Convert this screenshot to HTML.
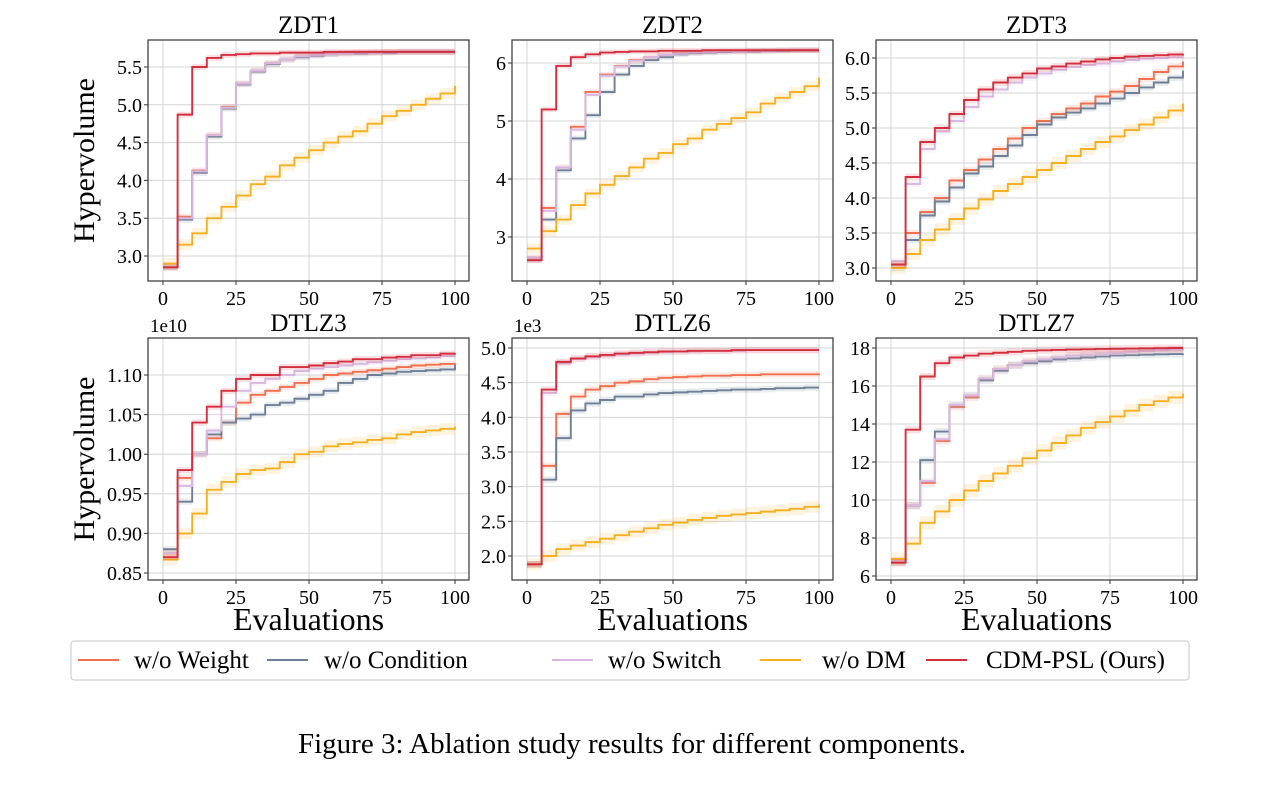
<!DOCTYPE html>
<html><head><meta charset="utf-8"><style>
body{margin:0;background:#fff;width:1274px;height:784px;overflow:hidden}
svg{font-family:"Liberation Serif",serif}
</style></head><body>
<svg id="fig" width="1274" height="784" viewBox="0 0 1274 784" xmlns="http://www.w3.org/2000/svg">
<g id="plots"></g>
<g>
<rect x="71" y="641" width="1118" height="39" rx="3" fill="#fff" stroke="#d0d0d0" stroke-width="1.2"/>
<g><line x1="78" y1="660" x2="119" y2="660" stroke="#f07050" stroke-width="2"/><text x="134" y="668" font-size="25">w/o Weight</text></g>
<g><line x1="267" y1="660" x2="308" y2="660" stroke="#6e7f96" stroke-width="2"/><text x="324" y="668" font-size="25">w/o Condition</text></g>
<g><line x1="552" y1="660" x2="593" y2="660" stroke="#d8b8e0" stroke-width="2"/><text x="608" y="668" font-size="25">w/o Switch</text></g>
<g><line x1="760" y1="660" x2="801" y2="660" stroke="#f5b021" stroke-width="2"/><text x="822" y="668" font-size="25">w/o DM</text></g>
<g><line x1="926" y1="660" x2="967" y2="660" stroke="#d42f3f" stroke-width="2"/><text x="986" y="668" font-size="25">CDM-PSL (Ours)</text></g>
</g>
<text x="632" y="753" font-size="29" text-anchor="middle">Figure 3: Ablation study results for different components.</text>
</svg>
<script>
const evals=[0,5,10,15,20,25,30,35,40,45,50,55,60,65,70,75,80,85,90,95,100];
const seriesNames=["weight","condition","switch","dm","cdm"];
const colors={weight:"#f07050",condition:"#6e7f96",switch:"#d8b8e0",dm:"#f5b021",cdm:"#d42f3f"};
const zdt1Weight=[2.85,3.52,4.13,4.6,4.97,5.28,5.45,5.55,5.6,5.64,5.66,5.67,5.68,5.69,5.69,5.7,5.7,5.7,5.7,5.7,5.7];
const zdt1Condition=[2.85,3.48,4.1,4.58,4.95,5.27,5.44,5.54,5.6,5.63,5.65,5.67,5.68,5.68,5.69,5.69,5.7,5.7,5.7,5.7,5.7];
const zdt1Switch=[2.85,3.5,4.12,4.6,4.96,5.28,5.45,5.55,5.6,5.64,5.66,5.67,5.68,5.69,5.69,5.7,5.7,5.7,5.7,5.7,5.7];
const zdt1Dm=[2.9,3.15,3.3,3.5,3.65,3.8,3.95,4.05,4.2,4.3,4.4,4.5,4.58,4.65,4.75,4.85,4.92,5.0,5.08,5.15,5.25];
const zdt1Cdm=[2.85,4.87,5.5,5.62,5.66,5.67,5.68,5.68,5.69,5.69,5.69,5.7,5.7,5.7,5.7,5.7,5.7,5.7,5.7,5.7,5.7];
const zdt2Weight=[2.65,3.5,4.2,4.9,5.5,5.8,5.95,6.05,6.1,6.14,6.17,6.18,6.19,6.2,6.2,6.21,6.21,6.22,6.22,6.22,6.22];
const zdt2Condition=[2.6,3.3,4.15,4.7,5.1,5.5,5.8,5.95,6.05,6.1,6.15,6.17,6.18,6.19,6.2,6.2,6.21,6.21,6.22,6.22,6.22];
const zdt2Switch=[2.65,3.45,4.2,4.85,5.45,5.78,5.94,6.04,6.1,6.14,6.16,6.18,6.19,6.2,6.2,6.21,6.21,6.22,6.22,6.22,6.22];
const zdt2Dm=[2.8,3.1,3.3,3.55,3.75,3.9,4.05,4.2,4.35,4.45,4.6,4.7,4.85,4.95,5.05,5.15,5.3,5.4,5.5,5.6,5.75];
const zdt2Cdm=[2.6,5.2,5.95,6.1,6.15,6.18,6.19,6.2,6.2,6.21,6.21,6.21,6.22,6.22,6.22,6.22,6.22,6.22,6.22,6.22,6.22];
const zdt3Weight=[3.05,3.5,3.8,4.0,4.25,4.4,4.55,4.7,4.85,5.0,5.1,5.2,5.28,5.35,5.45,5.52,5.6,5.7,5.8,5.88,5.95];
const zdt3Condition=[3.0,3.4,3.75,3.95,4.15,4.35,4.45,4.6,4.75,4.9,5.05,5.15,5.22,5.28,5.35,5.42,5.5,5.58,5.65,5.72,5.82];
const zdt3Switch=[3.1,4.2,4.7,4.95,5.1,5.3,5.45,5.55,5.65,5.72,5.78,5.83,5.87,5.9,5.92,5.95,5.97,5.99,6.0,6.01,6.02];
const zdt3Dm=[3.0,3.2,3.4,3.55,3.7,3.85,3.98,4.1,4.2,4.3,4.4,4.5,4.6,4.7,4.8,4.88,4.97,5.05,5.15,5.25,5.35];
const zdt3Cdm=[3.05,4.3,4.8,5.0,5.2,5.4,5.55,5.65,5.72,5.78,5.85,5.88,5.92,5.95,5.98,6.0,6.02,6.03,6.04,6.05,6.06];
const dtlz3Weight=[0.875,0.97,1.0,1.02,1.04,1.065,1.075,1.08,1.085,1.09,1.095,1.1,1.102,1.104,1.106,1.108,1.11,1.112,1.113,1.114,1.115];
const dtlz3Condition=[0.88,0.94,1.0,1.025,1.04,1.045,1.05,1.062,1.065,1.07,1.075,1.08,1.09,1.095,1.1,1.102,1.104,1.105,1.106,1.107,1.113];
const dtlz3Switch=[0.875,0.96,1.0,1.03,1.06,1.08,1.09,1.095,1.1,1.105,1.108,1.11,1.112,1.114,1.116,1.118,1.12,1.121,1.122,1.124,1.125];
const dtlz3Dm=[0.867,0.9,0.925,0.955,0.965,0.975,0.98,0.982,0.99,1.0,1.003,1.01,1.013,1.015,1.018,1.02,1.025,1.028,1.03,1.032,1.035];
const dtlz3Cdm=[0.87,0.98,1.04,1.06,1.08,1.095,1.1,1.1,1.11,1.11,1.112,1.115,1.117,1.12,1.12,1.122,1.123,1.125,1.125,1.127,1.128];
const dtlz6Weight=[1.88,3.3,4.05,4.3,4.4,4.45,4.5,4.52,4.55,4.57,4.58,4.59,4.6,4.6,4.61,4.61,4.62,4.62,4.62,4.62,4.63];
const dtlz6Condition=[1.88,3.1,3.7,4.1,4.2,4.25,4.3,4.3,4.33,4.35,4.36,4.37,4.38,4.39,4.4,4.4,4.41,4.42,4.42,4.43,4.43];
const dtlz6Switch=[1.88,4.35,4.78,4.84,4.87,4.89,4.91,4.92,4.93,4.94,4.95,4.95,4.96,4.96,4.96,4.97,4.97,4.97,4.97,4.97,4.97];
const dtlz6Dm=[1.88,2.0,2.1,2.15,2.2,2.25,2.3,2.35,2.4,2.45,2.48,2.52,2.55,2.58,2.6,2.62,2.64,2.66,2.68,2.71,2.74];
const dtlz6Cdm=[1.88,4.4,4.8,4.85,4.88,4.9,4.92,4.93,4.94,4.95,4.95,4.96,4.96,4.96,4.97,4.97,4.97,4.97,4.97,4.97,4.97];
const dtlz7Weight=[6.8,9.7,10.9,13.1,14.9,15.4,16.4,16.9,17.1,17.3,17.4,17.5,17.6,17.65,17.7,17.75,17.8,17.85,17.9,17.92,17.95];
const dtlz7Condition=[6.7,9.7,12.1,13.6,15.0,15.5,16.3,16.8,17.1,17.2,17.3,17.4,17.45,17.5,17.55,17.6,17.62,17.65,17.67,17.68,17.7];
const dtlz7Switch=[6.8,9.7,11.0,13.2,15.0,15.5,16.4,16.9,17.1,17.3,17.4,17.5,17.6,17.65,17.7,17.75,17.8,17.85,17.9,17.92,17.95];
const dtlz7Dm=[6.9,7.7,8.8,9.4,10.0,10.5,11.0,11.4,11.8,12.2,12.6,13.0,13.4,13.8,14.1,14.4,14.7,15.0,15.2,15.4,15.6];
const dtlz7Cdm=[6.7,13.7,16.5,17.2,17.5,17.6,17.7,17.75,17.8,17.85,17.88,17.9,17.92,17.93,17.95,17.96,17.97,17.98,17.99,18.0,18.0];
const xTicks=[0,25,50,75,100];
const zdt1Ticks=["3.0","3.5","4.0","4.5","5.0","5.5"];
const zdt2Ticks=["3","4","5","6"];
const zdt3Ticks=["3.0","3.5","4.0","4.5","5.0","5.5","6.0"];
const dtlz3Ticks=["0.85","0.90","0.95","1.00","1.05","1.10"];
const dtlz6Ticks=["2.0","2.5","3.0","3.5","4.0","4.5","5.0"];
const dtlz7Ticks=["6","8","10","12","14","16","18"];

const panels=[
 {name:"zdt1",title:"ZDT1",L:148,T:40,B:281,y1:[5.5,67],y0:[3.0,256],ticks:zdt1Ticks,data:[zdt1Weight,zdt1Condition,zdt1Switch,zdt1Dm,zdt1Cdm],ylab:true,xlab:false},
 {name:"zdt2",title:"ZDT2",L:512,T:40,B:281,y1:[6,63],y0:[3,237],ticks:zdt2Ticks,data:[zdt2Weight,zdt2Condition,zdt2Switch,zdt2Dm,zdt2Cdm],ylab:false,xlab:false},
 {name:"zdt3",title:"ZDT3",L:876,T:40,B:281,y1:[6.0,58],y0:[3.0,268],ticks:zdt3Ticks,data:[zdt3Weight,zdt3Condition,zdt3Switch,zdt3Dm,zdt3Cdm],ylab:false,xlab:false},
 {name:"dtlz3",title:"DTLZ3",L:148,T:338,B:580,y1:[1.10,375],y0:[0.85,573],ticks:dtlz3Ticks,data:[dtlz3Weight,dtlz3Condition,dtlz3Switch,dtlz3Dm,dtlz3Cdm],ylab:true,xlab:true,off:"1e10"},
 {name:"dtlz6",title:"DTLZ6",L:512,T:338,B:580,y1:[5.0,348],y0:[2.0,556],ticks:dtlz6Ticks,data:[dtlz6Weight,dtlz6Condition,dtlz6Switch,dtlz6Dm,dtlz6Cdm],ylab:false,xlab:true,off:"1e3"},
 {name:"dtlz7",title:"DTLZ7",L:876,T:338,B:580,y1:[18,348],y0:[6,576],ticks:dtlz7Ticks,data:[dtlz7Weight,dtlz7Condition,dtlz7Switch,dtlz7Dm,dtlz7Cdm],ylab:false,xlab:true}
];
const NS="http://www.w3.org/2000/svg";
const root=document.getElementById("plots");
function mk(tag,attrs,parent){const e=document.createElementNS(NS,tag);for(const k in attrs)e.setAttribute(k,attrs[k]);parent.appendChild(e);return e;}
const W=321;
panels.forEach(p=>{
 const g=mk("g",{},root);
 
 
 const xs=v=>p.L+15+v/100*(W-29);
 const ys=v=>p.y0[1]+(v-p.y0[0])*(p.y1[1]-p.y0[1])/(p.y1[0]-p.y0[0]);
 const span=Math.abs(p.y1[0]-p.y0[0]);
 xTicks.forEach(t=>{mk("line",{x1:xs(t),x2:xs(t),y1:p.T,y2:p.B,stroke:"#d4d4d4","stroke-width":1},g);
  const tl=mk("text",{x:xs(t),y:p.B+24,"font-size":20,"text-anchor":"middle"},g);tl.textContent=t;
  
  
  mk("line",{x1:xs(t),x2:xs(t),y1:p.B,y2:p.B+4,stroke:"#333"},g);});
 p.ticks.forEach(t=>{const v=parseFloat(t);mk("line",{x1:p.L,x2:p.L+W,y1:ys(v),y2:ys(v),stroke:"#d4d4d4","stroke-width":1},g);
  const tl=mk("text",{x:p.L-6,y:ys(v)+7,"font-size":20,"text-anchor":"end"},g);tl.textContent=t;
  
  
  mk("line",{x1:p.L-4,x2:p.L,y1:ys(v),y2:ys(v),stroke:"#333"},g);});
 p.data.forEach((arr,si)=>{
  let d="",up="",lo=[];
  const band=span*0.016*(si===3?1.8:1);
  arr.forEach((v,i)=>{const x=xs(evals[i]);
   if(i===0){d+=`M${x},${ys(v)}`;up+=`M${x},${ys(v+band)}`;}
   else{d+=`H${x}V${ys(v)}`;up+=`H${x}V${ys(v+band)}`;}
   lo.push([x,v]);});
  let lp="";for(let i=lo.length-1;i>=0;i--){const [x,v]=lo[i];lp+=`L${x},${ys(v-band)}`;if(i>0)lp+=`L${lo[i][0]},${ys(lo[i-1][1]-band)}`;}
  const c=colors[seriesNames[si]];
  const bd=mk("path",{d:up+lp+"Z",fill:c,"fill-opacity":0.15,stroke:"none"},g);
  
  
  const ln=mk("path",{d:d,fill:"none",stroke:c,"stroke-width":1.9},g);
  
  
 });
 mk("rect",{x:p.L,y:p.T,width:W,height:p.B-p.T,fill:"none",stroke:"#333","stroke-width":1.2},g);
 const tt=mk("text",{x:p.L+W/2,y:p.T-7,"font-size":25,"text-anchor":"middle"},g);tt.textContent=p.title;
 
 
 if(p.off){const o=mk("text",{x:p.L+2,y:p.T-6,"font-size":19},g);o.textContent=p.off;
  
  }
 if(p.ylab){const yl=mk("text",{x:0,y:0,"font-size":30,"text-anchor":"middle",transform:`translate(94,${(p.T+p.B)/2}) rotate(-90)`},g);yl.textContent="Hypervolume";
  
  }
 if(p.xlab){const xl=mk("text",{x:p.L+W/2,y:630,"font-size":32,"text-anchor":"middle"},g);xl.textContent="Evaluations";
  
  }
});
</script>
</body></html>
